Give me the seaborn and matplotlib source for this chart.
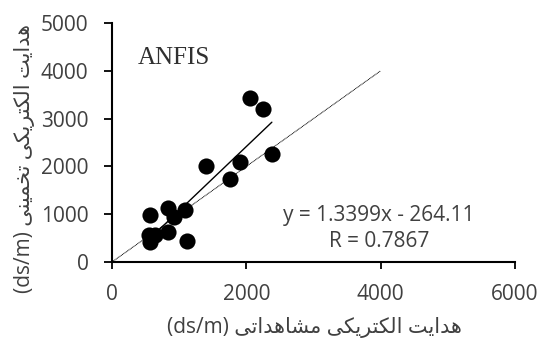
import matplotlib
matplotlib.use("Agg")
import matplotlib.pyplot as plt
import seaborn as sns
import numpy as np
import pandas as pd

# ---- data ----
observed = [2050, 2250, 2380, 1400, 1900, 1750, 570, 840, 1080, 920, 545, 640, 830, 560, 1120]
estimated = [3430, 3195, 2250, 2010, 2095, 1735, 985, 1140, 1085, 935, 560, 565, 620, 425, 445]
slope, intercept = 1.3399, -264.11
r_value = 0.7867
one_to_one = [0, 4000]
x_ticks = [0, 2000, 4000, 6000]
y_ticks = [0, 1000, 2000, 3000, 4000, 5000]
model_name = "ANFIS"
x_label_fa = "هدایت الکتریکی مشاهداتی"
y_label_fa = "هدایت الکتریکی تخمینی"
unit = "(ds/m)"

# ---- minimal Persian shaping (matplotlib has no complex text layout) ----
FORMS = {
    "\u0647": ("\uFEE9", "\uFEEA", "\uFEEB", "\uFEEC"),
    "\u062F": ("\uFEA9", "\uFEAA"),
    "\u0627": ("\uFE8D", "\uFE8E"),
    "\u06CC": ("\uFBFC", "\uFBFD", "\uFBFE", "\uFBFF"),
    "\u062A": ("\uFE95", "\uFE96", "\uFE97", "\uFE98"),
    "\u0644": ("\uFEDD", "\uFEDE", "\uFEDF", "\uFEE0"),
    "\u06A9": ("\uFB8E", "\uFB8F", "\uFB90", "\uFB91"),
    "\u0631": ("\uFEAD", "\uFEAE"),
    "\u0645": ("\uFEE1", "\uFEE2", "\uFEE3", "\uFEE4"),
    "\u0634": ("\uFEB5", "\uFEB6", "\uFEB7", "\uFEB8"),
    "\u062E": ("\uFEA5", "\uFEA6", "\uFEA7", "\uFEA8"),
    "\u0646": ("\uFEE5", "\uFEE6", "\uFEE7", "\uFEE8"),
}


def shape_word(w):
    out = []
    n = len(w)
    for i, c in enumerate(w):
        f = FORMS.get(c)
        if f is None:
            out.append(c)
            continue
        prev_joins = i > 0 and w[i - 1] in FORMS and len(FORMS[w[i - 1]]) == 4
        next_joins = i < n - 1 and w[i + 1] in FORMS and len(f) == 4
        if prev_joins and next_joins:
            out.append(f[3])
        elif prev_joins:
            out.append(f[1])
        elif next_joins:
            out.append(f[2])
        else:
            out.append(f[0])
    return "".join(reversed(out))


def visual(fa, latin):
    words = fa.split(" ")
    return latin + " " + " ".join(shape_word(w) for w in reversed(words))


sns.set_theme(style="white")
plt.rcParams["font.family"] = ["Open Sans", "DejaVu Sans"]

TXT = "#404040"
fig = plt.figure(figsize=(5.41, 3.45), dpi=100)
ax = fig.add_axes([0.207, 0.2406, 0.745, 0.6927])

df = pd.DataFrame({"obs": observed, "est": estimated})

# 1:1 line
ax.plot(one_to_one, one_to_one, color="black", lw=0.7, ls=(0, (1, 0.6)), zorder=1)

# regression line over data range
xr = np.array([min(observed), max(observed)])
ax.plot(xr, slope * xr + intercept, color="black", lw=1.0, zorder=2)

sns.scatterplot(data=df, x="obs", y="est", ax=ax, s=135, color="black",
                edgecolor="black", linewidth=0, zorder=3)

ax.set_xlim(0, 6000)
ax.set_ylim(0, 5000)
ax.set_xticks(x_ticks)
ax.set_yticks(y_ticks)
ax.tick_params(axis="both", direction="out", width=1.3, color="black",
               labelsize=15, labelcolor=TXT, bottom=True, left=True)
ax.tick_params(axis="y", length=6, pad=11)
ax.tick_params(axis="x", length=5, pad=10.5)

for s in ["top", "right"]:
    ax.spines[s].set_visible(False)
for s in ["left", "bottom"]:
    ax.spines[s].set_color("black")
    ax.spines[s].set_linewidth(1.5)

ax.set_xlabel(visual(x_label_fa, unit), fontsize=15, color=TXT)
ax.set_ylabel(visual(y_label_fa, unit), fontsize=15, color=TXT)
ax.xaxis.set_label_coords(0.503, -0.276)
ax.yaxis.set_label_coords(-0.218, 0.431)
ax.xaxis.label.set_va("center")
ax.yaxis.label.set_va("center")

ax.text(0.064, 0.855, model_name, transform=ax.transAxes, fontsize=18,
        family="Liberation Serif", color="#303030", va="center", ha="left")
ax.text(3975, 983, f"y = {slope}x - {abs(intercept)}", fontsize=15,
        color=TXT, ha="center", va="center")
ax.text(3975, 429, f"R = {r_value}", fontsize=15, color=TXT,
        ha="center", va="center")

ax.grid(False)
fig.savefig("out.png", dpi=100)
